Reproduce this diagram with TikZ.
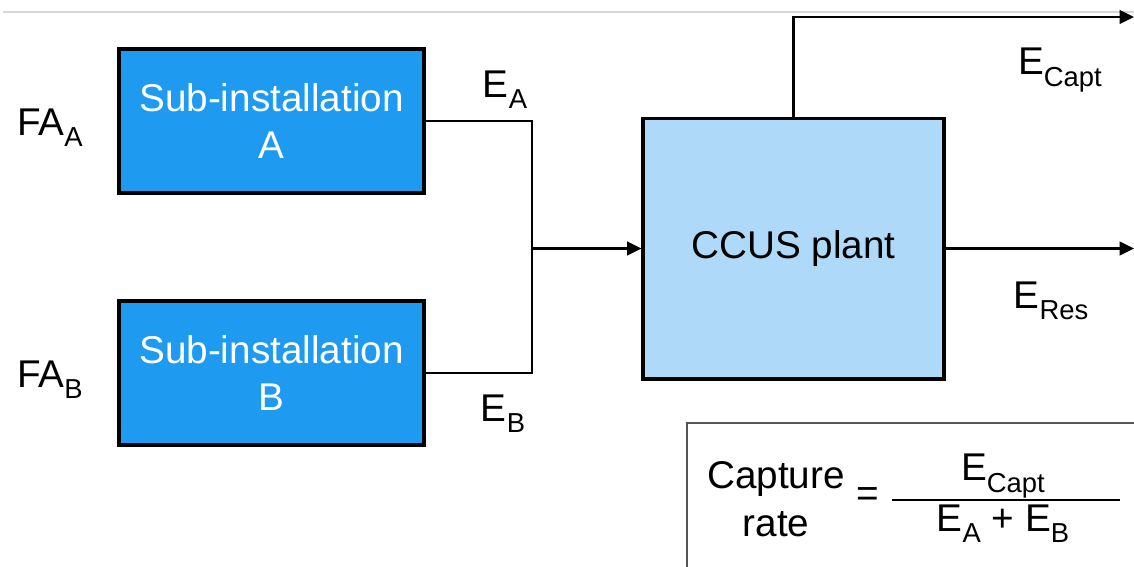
\documentclass[tikz,border=0pt]{standalone}
\usepackage{fontspec}
\setmainfont{Liberation Sans}
\usepackage{tikz}
\usetikzlibrary{arrows.meta, calc, positioning}
\definecolor{subBlue}{HTML}{1E9BF0}
\definecolor{plantBlue}{HTML}{AED9F8}
\definecolor{frameGrey}{HTML}{555555}
\definecolor{ruleGrey}{HTML}{D6D6D6}
\newcommand{\bigtxt}{\fontsize{27.5pt}{34pt}\selectfont}
\newcommand{\idx}[1]{\raisebox{-0.55ex}{\fontsize{19.5pt}{19.5pt}\selectfont #1}}
\tikzset{
  % pixel-like units, y pointing down as in the sketch
  every picture/.append style = {x=0.025cm, y=-0.025cm, line width=1.8pt},
  subbox/.style   = {draw=black, fill=subBlue, line width=2.8pt, text=white,
                     minimum width=7.6cm, minimum height=3.62cm,
                     align=center, font=\bigtxt},
  plantbox/.style = {draw=black, fill=plantBlue, line width=2.8pt,
                     minimum width=7.5cm, minimum height=6.5cm, font=\bigtxt},
  flow/.style     = {-{Triangle[length=3.6mm, width=3.4mm]}, line width=1.8pt},
  lbl/.style      = {font=\bigtxt, inner sep=0pt},
}

\begin{document}
\begin{tikzpicture}
  \useasboundingbox (0,0) rectangle (1134,567);
  % faint rule along the top
  \draw[ruleGrey, line width=1.2pt] (3,12) -- (1134,12);
  % sub-installations
  \node[subbox] (subA) at (271.5,121) {Sub-installation\\A};
  \node[subbox] (subB) at (271.5,373) {Sub-installation\\B};
  \node[lbl] (faA) at (50,128) {FA\idx{A}};
  \node[lbl] (faB) at (50,380) {FA\idx{B}};
  % capture plant
  \node[plantbox] (ccus) at (793.5,248.5) {CCUS plant};
  % merging streams
  \coordinate (join) at (532,248.5);
  \draw (subA.east) -| (join);
  \draw (subB.east) -| (join);
  \draw[flow] (join) -- (ccus.west);
  \node[lbl] (eA) at (505,90) {E\idx{A}};
  \node[lbl] (eB) at (503,414) {E\idx{B}};
  % outgoing streams
  \coordinate (captEnd) at (1134,17);
  \coordinate (resEnd) at (1134,248.5);
  \draw[flow] (ccus.north) |- (captEnd);
  \draw[flow] (ccus.east) -- (resEnd);
  \node[lbl] (eCapt) at (1060,70) {E\idx{Capt}};
  \node[lbl] (eRes) at (1051,301) {E\idx{Res}};
  % capture rate formula
  \draw[frameGrey, line width=1.3pt] (1145,423) -| (687,580);
  \node[lbl, align=center] (rate) at (776,499) {Capture\\rate};
  \node[lbl] (eq) at (868,497) {=};
  \node[lbl] (num) at (1003,476) {E\idx{Capt}};
  \node[lbl] (den) at (1003,524) {E\idx{A} + E\idx{B}};
  \draw[line width=1.3pt] (892,500) -- (1120,500);
\end{tikzpicture}
\end{document}
